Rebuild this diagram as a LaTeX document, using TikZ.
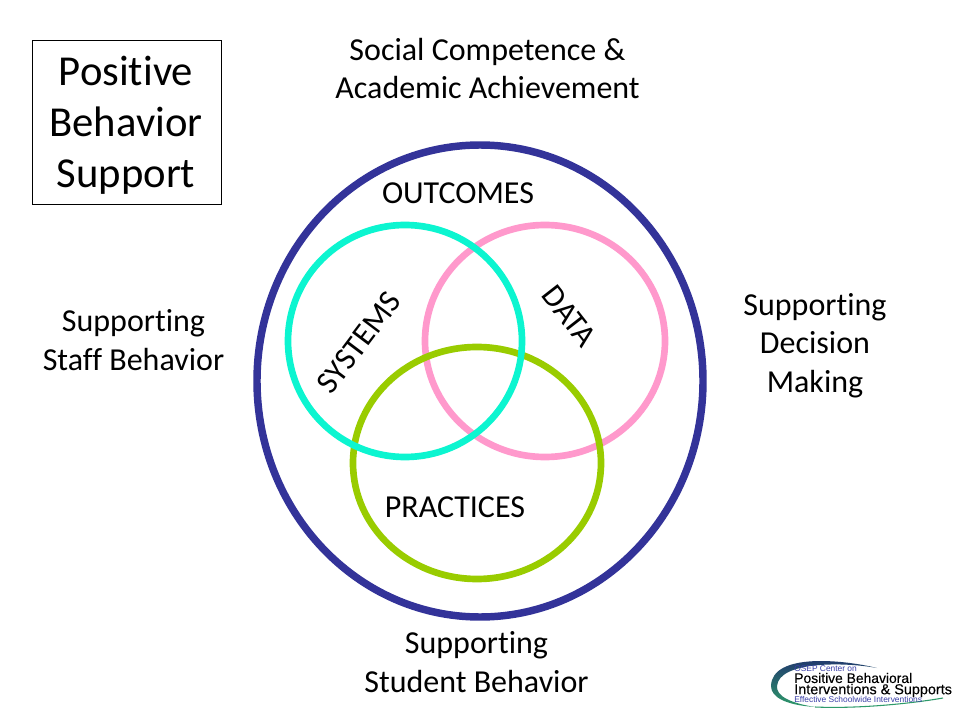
\documentclass[tikz,border=0pt]{standalone}
\usepackage{fontspec}
\setmainfont[Ligatures=NoCommon]{Carlito}
\newfontfamily\logofont{Liberation Sans}
\newfontfamily\logobold[FakeBold=0.2]{Liberation Sans}
\definecolor{navyring}{HTML}{333399}
\definecolor{tealring}{HTML}{0CF5D0}
\definecolor{pinkring}{HTML}{FF99CC}
\definecolor{greenring}{HTML}{99CC00}
\definecolor{logoblue}{HTML}{3A3FA8}
\definecolor{logogreen}{HTML}{2E9A6A}
\definecolor{logonavy}{HTML}{1F2A6E}
\tikzset{
 lbl/.style={font=\fontsize{24}{28.8}\selectfont,align=center,inner sep=0pt,text=black},
 ttl/.style={font=\fontsize{32}{38.4}\selectfont,align=center,inner sep=0pt,text=black},
 ring/.style={line width=5pt,fill=none},
 logotxt/.style={inner sep=0pt,anchor=west},
}
\begin{document}
\begin{tikzpicture}[x=0.75pt,y=-0.75pt]
\useasboundingbox (0,0) rectangle (960,720);
\fill[white] (0,0) rectangle (960,720);
% rings
\draw[ring,navyring,line width=5.6pt] (480,381) ellipse [x radius=223,y radius=236];
\draw[ring,pinkring] (545,341) ellipse [x radius=120,y radius=116];
\draw[ring,greenring] (477,463) ellipse [x radius=124,y radius=116];
\draw[ring,tealring] (405,341) ellipse [x radius=117,y radius=116];
% title box
\draw[black,line width=0.75pt] (32.5,40.5) rectangle (221,205);
\node[ttl] (title) at (126,125.5) {Positive\\Behavior\\Support};
% labels
\node[lbl] (social) at (487.5,68.5) {Social Competence \&\\Academic Achievement};
\node[lbl] (staff) at (133.5,340) {Supporting\\Staff Behavior};
\node[lbl] (decision) at (815,345.5) {Supporting\\Decision\\Making};
\node[lbl] (student) at (476.5,662) {Supporting\\Student Behavior};
\node[lbl] (outcomes) at (458,193) {OUTCOMES};
\node[lbl] (practices) at (455,507) {PRACTICES};
\node[lbl,rotate=53] (systems) at (359,342.5) {SYSTEMS};
\node[lbl,rotate=-52] (data) at (569.5,316) {DATA};
% logo
\shade[top color=logonavy,bottom color=logogreen] (877,668) .. controls (845,660) and (772,652) .. (771,686)
  .. controls (771,697) and (785,705) .. (815,707)
  .. controls (790,703) and (776,696) .. (777,686)
  .. controls (779,661) and (845,662) .. (877,668) -- cycle;
\draw[logogreen,line width=0.8pt] (815,707) .. controls (860,709) and (915,703) .. (943,698);
\node[logotxt,text=logoblue,font=\logofont\fontsize{6.3}{7}\selectfont] (osep) at (794,668.5) {OSEP Center on};
\node[logotxt,text=black,font=\logobold\fontsize{10.4}{11}\selectfont] (pbl) at (794,678) {Positive Behavioral};
\node[logotxt,text=black,font=\logobold\fontsize{10.8}{11}\selectfont] (ivs) at (794,690.5) {Interventions \& Supports};
\node[logotxt,text=logoblue,font=\logofont\fontsize{6.3}{7}\selectfont] (eff) at (794,699.5) {Effective Schoolwide Interventions};
\end{tikzpicture}
\end{document}
